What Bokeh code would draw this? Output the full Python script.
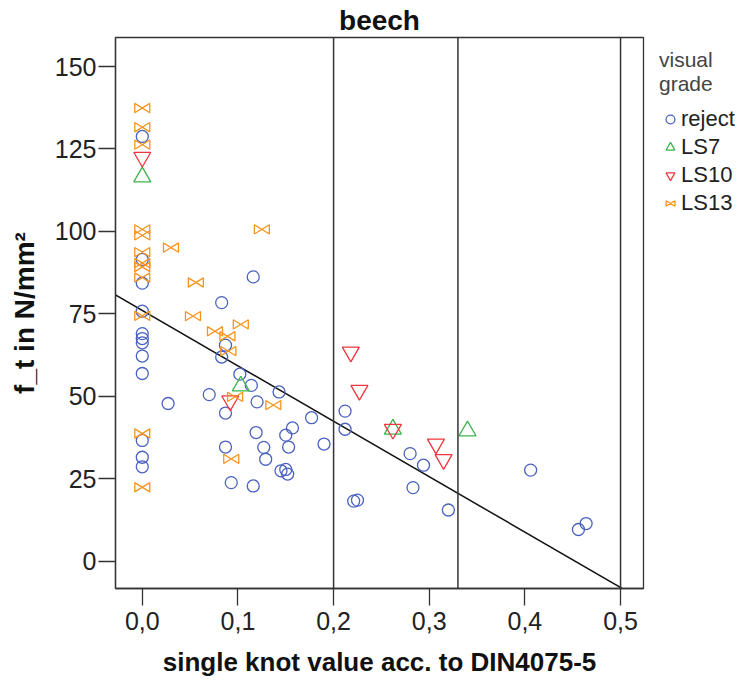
import numpy as np
from bokeh.plotting import figure
from bokeh.layouts import row
from bokeh.models import (CustomJS, Legend, LegendItem, Span,
                          FixedTicker, CustomJSTickFormatter)
from bokeh.embed import file_html
from bokeh.resources import INLINE

# ---------------- data ----------------
reject_x = [0, 0, 0, 0.116, 0.083, 0, 0, 0, 0, 0.087, 0.083, 0, 0, 0.102, 0.114,
            0.143, 0.070, 0.027, 0.120, 0.087, 0.177, 0.212, 0, 0, 0, 0.212, 0.119,
            0.150, 0.157, 0.190, 0.087, 0.127, 0.153, 0.129, 0.145, 0.150, 0.152,
            0.093, 0.116, 0.221, 0.225, 0.280, 0.294, 0.283, 0.320, 0.406, 0.456, 0.464]
reject_y = [128.8, 91.5, 84.3, 86.2, 78.4, 75.8, 69.0, 67.5, 66.2, 65.5, 61.9, 62.2,
            56.9, 56.7, 53.3, 51.3, 50.5, 47.8, 48.3, 44.9, 43.5, 45.5, 36.6, 31.5,
            28.6, 40.0, 39.0, 38.2, 40.4, 35.5, 34.6, 34.5, 34.6, 30.9, 27.4, 27.8,
            26.4, 23.8, 22.8, 18.2, 18.5, 32.6, 29.1, 22.3, 15.5, 27.6, 9.6, 11.4]

ls7_x = [0, 0.103, 0.262, 0.340]
ls7_y = [116.5, 53.1, 40.0, 39.5]

ls10_x = [0, 0.092, 0.218, 0.227, 0.262, 0.307, 0.315]
ls10_y = [122.5, 48.6, 63.4, 51.8, 40.0, 35.5, 30.8]

ls13_x = [0, 0, 0, 0, 0, 0, 0, 0, 0, 0, 0, 0,
          0.125, 0.030, 0.056, 0.053, 0.103, 0.076, 0.089, 0.090, 0.097, 0.137, 0.093]
ls13_y = [137.4, 131.6, 126.3, 100.6, 98.8, 93.7, 90.4, 89.2, 86.0, 74.4, 38.7, 22.4,
          100.6, 95.1, 84.5, 74.3, 71.8, 69.7, 68.2, 63.7, 49.8, 47.3, 31.0]

fit_intercept = 76.0
fit_slope = -168.0
ref_lines_x = [0.2, 0.33, 0.5]

x_ticks = [0.0, 0.1, 0.2, 0.3, 0.4, 0.5]
y_ticks = [0, 25, 50, 75, 100, 125, 150]

title_text = "beech"
x_title = "single knot value acc. to DIN4075-5"
y_title = "f_t in N/mm²"
legend_title = "visual\ngrade"
series_names = ["reject", "LS7", "LS10", "LS13"]
series_colors = ["#4a62c0", "#3cb44b", "#f0363f", "#f7941d"]
series_markers = ["circle", "triangle", "inverted_triangle", "@bowtie"]
series_sizes = [12, 17, 17, 15]

FONT = "Liberation Sans"

bowtie = CustomJS(code="""
const {ctx, i, r, visuals} = cb_data;
const a = r, b = 0.62 * r;
ctx.moveTo(-a, -b);
ctx.lineTo(a, b);
ctx.lineTo(a, -b);
ctx.lineTo(-a, b);
ctx.lineTo(-a, -b);
ctx.closePath();
visuals.line.apply(ctx, i);
""")

# ---------------- main figure ----------------
p = figure(width=650, height=682, output_backend="svg", toolbar_location=None,
           x_range=(-0.028, 0.524), y_range=(-8.3, 158.8),
           min_border_left=115, min_border_right=7, min_border_top=37,
           min_border_bottom=94, title=title_text)
p.title.align = "center"
p.title.text_font = FONT
p.title.text_font_size = "28px"
p.title.text_font_style = "bold"
p.title.text_color = "#111111"
p.title.standoff = 3

p.grid.visible = False
p.outline_line_color = "#333333"
p.outline_line_width = 1.3
p.background_fill_color = "white"
p.border_fill_color = "white"

p.xaxis.ticker = FixedTicker(ticks=x_ticks)
p.xaxis.formatter = CustomJSTickFormatter(code="return tick.toFixed(1).replace('.', ',');")
p.yaxis.ticker = FixedTicker(ticks=y_ticks)
for ax in (p.xaxis[0], p.yaxis[0]):
    ax.axis_line_color = "#333333"
    ax.axis_line_width = 1.3
    ax.major_tick_line_color = "#333333"
    ax.major_tick_line_width = 1.3
    ax.minor_tick_line_color = None
    ax.major_tick_in = 0
    ax.major_tick_out = 17
    ax.major_label_text_font = FONT
    ax.major_label_text_font_size = "25px"
    ax.major_label_text_color = "#222222"
    ax.axis_label_text_font = FONT
    ax.axis_label_text_font_style = "bold"
    ax.axis_label_text_color = "#111111"
p.xaxis.major_label_standoff = 6
p.xaxis.axis_label = x_title
p.xaxis.axis_label_text_font_size = "26px"
p.xaxis.axis_label_standoff = 14
p.yaxis.major_label_standoff = 2
p.yaxis.axis_label = y_title
p.yaxis.axis_label_text_font_size = "28px"
p.yaxis.axis_label_standoff = 12

for xv in ref_lines_x:
    p.add_layout(Span(location=xv, dimension="height", line_color="#333333", line_width=1.5))

fx = np.array([-0.05, 0.6])
p.line(fx, fit_intercept + fit_slope * fx, line_color="#111111", line_width=1.5)

series_x = [reject_x, ls7_x, ls10_x, ls13_x]
series_y = [reject_y, ls7_y, ls10_y, ls13_y]
for sx, sy, m, s, c in zip(series_x, series_y, series_markers, series_sizes, series_colors):
    kw = {"defs": {"@bowtie": bowtie}} if m.startswith("@") else {}
    p.scatter(sx, sy, marker=m, size=s, fill_color=None, line_color=c, line_width=1.3, **kw)

# ---------------- legend panel (right) ----------------
lf = figure(width=90, height=682, output_backend="svg", toolbar_location=None,
            x_range=(0, 1), y_range=(0, 1), x_axis_type=None, y_axis_type=None,
            min_border_left=0, min_border_right=0, min_border_top=0, min_border_bottom=0)
lf.grid.visible = False
lf.outline_line_color = None
lf.background_fill_color = "white"
lf.border_fill_color = "white"

items = []
for name, m, s, c in zip(series_names, series_markers, series_sizes, series_colors):
    kw = {"defs": {"@bowtie": bowtie}} if m.startswith("@") else {}
    # legend key renderer (its only point lies outside the visible range)
    r = lf.scatter([-5], [-5], marker=m, size=s, fill_color=None, line_color=c,
                   line_width=1.3, **kw)
    items.append(LegendItem(label=name, renderers=[r]))

legend = Legend(items=items, location=(9, 372), title=legend_title, orientation="vertical")
legend.border_line_color = None
legend.background_fill_alpha = 0
legend.title_text_font = FONT
legend.title_text_font_size = "21px"
legend.title_text_font_style = "normal"
legend.title_text_color = "#444444"
legend.title_standoff = 10
legend.label_text_font = FONT
legend.label_text_font_size = "22px"
legend.label_text_color = "#222222"
legend.glyph_width = 22
legend.glyph_height = 26
legend.label_height = 26
legend.label_standoff = 0
legend.spacing = 2
legend.padding = 4
legend.margin = 0
lf.add_layout(legend)

layout = row(p, lf, spacing=0)
open("out.html", "w").write(file_html(layout, INLINE))
